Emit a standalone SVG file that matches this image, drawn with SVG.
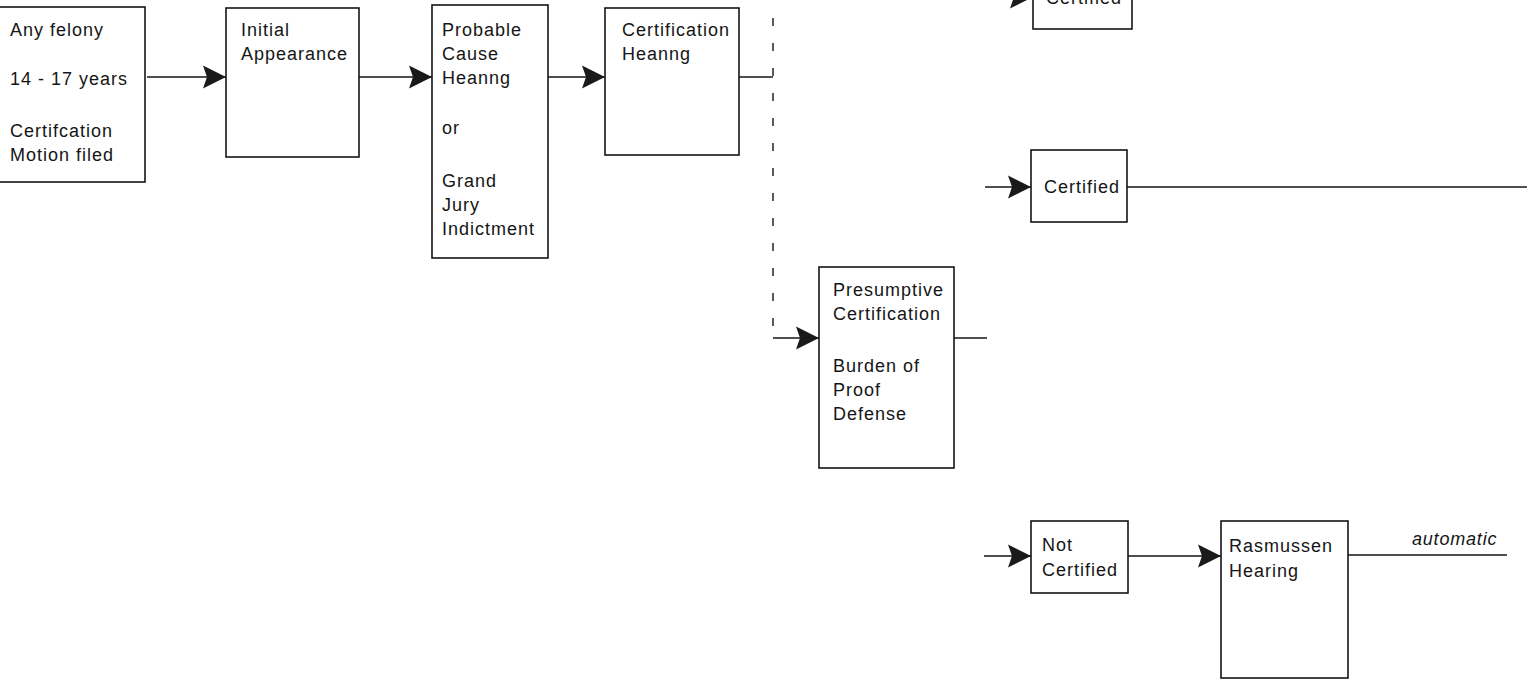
<svg xmlns="http://www.w3.org/2000/svg" width="1527" height="687" viewBox="0 0 1527 687">
  <style>
    .box { fill: #ffffff; stroke: #151515; stroke-width: 1.6; }
    .lbl { font-family: "Liberation Sans", Arial, sans-serif; font-size: 18px; letter-spacing: 1px; fill: #151515; }
    .note { font-family: "Liberation Sans", Arial, sans-serif; font-size: 18px; font-style: italic; letter-spacing: 0.8px; fill: #151515; }
    .wire { fill: none; stroke: #151515; stroke-width: 1.6; }
    .arrow { marker-end: url(#head); }
    .gap { fill: none; stroke: #151515; stroke-width: 1.4; stroke-dasharray: 8 17; }
  </style>
  <defs>
    <marker id="head" markerUnits="userSpaceOnUse" markerWidth="24" markerHeight="24" refX="23" refY="12" orient="auto">
      <path d="M0,0.5 L23,12 L0,23.5 L4,12 Z" fill="#1a1a1a"/>
    </marker>
  </defs>
  <rect width="1527" height="687" fill="#ffffff"/>

  <!-- connectors -->
  <g id="connectors">
    <line class="wire arrow" x1="147" y1="77" x2="226" y2="77"/>
    <line class="wire arrow" x1="359" y1="77" x2="432" y2="77"/>
    <line class="wire arrow" x1="548" y1="77" x2="605" y2="77"/>
    <line class="wire" x1="739" y1="77" x2="773" y2="77"/>
    <line class="gap" x1="773" y1="18" x2="773" y2="334"/>
    <line class="wire arrow" x1="773" y1="338" x2="819" y2="338"/>
    <line class="wire" x1="954" y1="338" x2="987" y2="338"/>
    <line class="wire arrow" x1="985" y1="-3" x2="1033" y2="-3"/>
    <line class="wire arrow" x1="985" y1="187" x2="1031" y2="187"/>
    <line class="wire" x1="1127" y1="187" x2="1527" y2="187"/>
    <line class="wire arrow" x1="984" y1="556" x2="1031" y2="556"/>
    <line class="wire arrow" x1="1128" y1="556" x2="1221" y2="556"/>
    <line class="wire" x1="1348" y1="555" x2="1507" y2="555"/>
    <text class="note" x="1412" y="545">automatic</text>
  </g>

  <g id="any-felony">
    <rect class="box" x="-1" y="7" width="146" height="175"/>
    <text class="lbl" x="10" y="36">Any felony</text>
    <text class="lbl" x="10" y="85">14 - 17 years</text>
    <text class="lbl" x="10" y="137">Certifcation</text>
    <text class="lbl" x="10" y="161">Motion filed</text>
  </g>

  <g id="initial-appearance">
    <rect class="box" x="226" y="8" width="133" height="149"/>
    <text class="lbl" x="241" y="36">Initial</text>
    <text class="lbl" x="241" y="60">Appearance</text>
  </g>

  <g id="probable-cause">
    <rect class="box" x="432" y="5" width="116" height="253"/>
    <text class="lbl" x="442" y="36">Probable</text>
    <text class="lbl" x="442" y="60">Cause</text>
    <text class="lbl" x="442" y="84">Heanng</text>
    <text class="lbl" x="442" y="134">or</text>
    <text class="lbl" x="442" y="187">Grand</text>
    <text class="lbl" x="442" y="211">Jury</text>
    <text class="lbl" x="442" y="235">Indictment</text>
  </g>

  <g id="certification-hearing">
    <rect class="box" x="605" y="8" width="134" height="147"/>
    <text class="lbl" x="622" y="36">Certification</text>
    <text class="lbl" x="622" y="60">Heanng</text>
  </g>

  <g id="presumptive-certification">
    <rect class="box" x="819" y="267" width="135" height="201"/>
    <text class="lbl" x="833" y="296">Presumptive</text>
    <text class="lbl" x="833" y="320">Certification</text>
    <text class="lbl" x="833" y="372">Burden of</text>
    <text class="lbl" x="833" y="396">Proof</text>
    <text class="lbl" x="833" y="420">Defense</text>
  </g>

  <g id="certified-top">
    <rect class="box" x="1033" y="-42" width="99" height="71"/>
    <text class="lbl" x="1046" y="4">Certified</text>
  </g>

  <g id="certified">
    <rect class="box" x="1031" y="150" width="96" height="72"/>
    <text class="lbl" x="1044" y="193">Certified</text>
  </g>

  <g id="not-certified">
    <rect class="box" x="1031" y="521" width="97" height="72"/>
    <text class="lbl" x="1042" y="551">Not</text>
    <text class="lbl" x="1042" y="576">Certified</text>
  </g>

  <g id="rasmussen-hearing">
    <rect class="box" x="1221" y="521" width="127" height="157"/>
    <text class="lbl" x="1229" y="552">Rasmussen</text>
    <text class="lbl" x="1229" y="577">Hearing</text>
  </g>
</svg>
